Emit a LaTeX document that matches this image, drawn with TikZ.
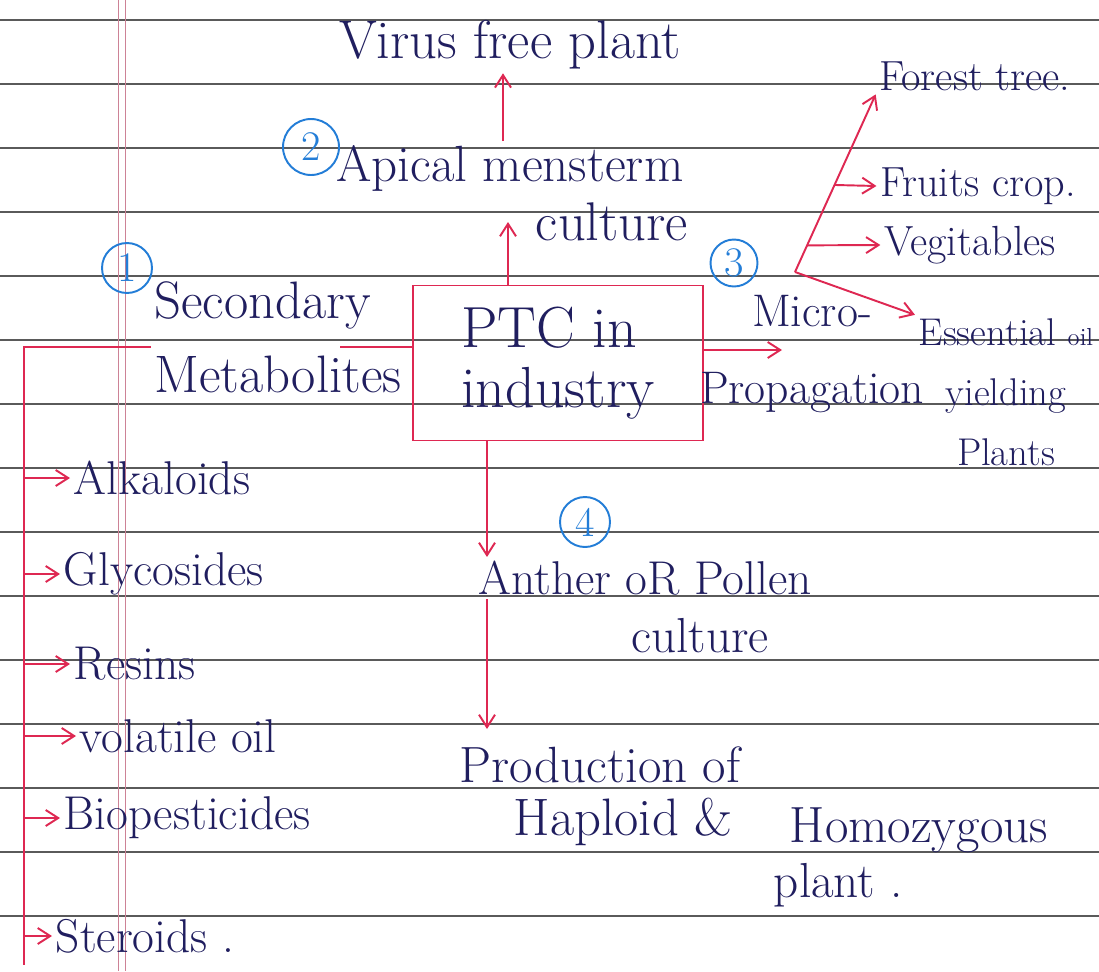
\documentclass[tikz,border=0pt]{standalone}
\usepackage{fontspec}
\usepackage{tikz}
\usetikzlibrary{positioning,arrows.meta,calc}
\usepackage{xcolor}
\definecolor{inkblue}{RGB}{32,30,95}
\definecolor{redink}{RGB}{222,40,82}
\definecolor{circblue}{RGB}{35,125,215}
\definecolor{rulegray}{RGB}{90,90,90}
\definecolor{margpink}{RGB}{205,130,150}

\begin{document}
\begin{tikzpicture}[x=0.02cm,y=-0.02cm,>={Straight Barb[length=2.5mm,width=3.2mm]},
  txt/.style={text=inkblue,font=\fontsize{29}{40}\selectfont,inner sep=2pt},
  listitem/.style={txt,anchor=west,font=\fontsize{27}{30}\selectfont},
  numcirc/.style={circle,draw=circblue,text=circblue,line width=1.1pt,minimum size=1cm,inner sep=0pt,font=\fontsize{24}{24}\selectfont},
  redline/.style={draw=redink,line width=1.1pt},
  redarrow/.style={redline,->}]
\useasboundingbox (0,0) rectangle (1099,971);
\fill[white] (0,0) rectangle (1099,971);
% ruled paper
\foreach \k in {0,...,14}
  \draw[rulegray,line width=0.6pt] (0,{20+64*\k}) -- (1099,{20+64*\k});
\draw[margpink,line width=0.5pt] (118,0) -- (118,971);
\draw[margpink,line width=0.5pt] (125,0) -- (125,971);

% centre box
\node[draw=redink,line width=1.1pt,txt,font=\fontsize{33}{34}\selectfont,align=left,minimum width=5.8cm,minimum height=3.1cm] (box) at (558,363) {PTC in\\industry};

% 1: secondary metabolites
\node[numcirc] (c1) at (127,268) {1};
\node[txt,align=left,font=\fontsize{30}{42}\selectfont] (secmet) at (278,337) {Secondary\\Metabolites};
\coordinate (trunk) at (24,347);
\coordinate (trunkend) at (24,965);
\node[listitem] (alk) at (70,478) {Alkaloids};
\node[listitem] (gly) at (60,574) {Glycosides};
\node[listitem] (res) at (70,664) {Resins};
\node[listitem] (vol) at (76,736) {volatile oil};
\node[listitem] (bio) at (60,818) {Biopesticides};
\node[listitem] (ster) at (52,936) {Steroids .};

% 2: apical meristem
\node[numcirc,minimum size=1.12cm] (c2) at (311,147) {2};
\node[txt,font=\fontsize{31}{40}\selectfont] (virus) at (510,45) {Virus free plant};
\node[txt] (apical) at (510,168) {Apical mensterm};
\node[txt,font=\fontsize{31}{40}\selectfont] (apicult) at (612,222) {culture};
\coordinate (vx) at (503,0);
\coordinate (ax) at (508,0);

% 3: micropropagation
\node[numcirc,minimum size=0.94cm] (c3) at (734,263) {3};
\node[txt,align=center,font=\fontsize{26}{44}\selectfont] (micro) at (812,354) {Micro-\\Propagation};
\coordinate (mtip) at (782,350);
\coordinate (hub) at (795,272);
\node[txt,font=\fontsize{24}{30}\selectfont] (forest) at (975,76) {Forest tree.};
\node[txt,font=\fontsize{24}{30}\selectfont] (fruits) at (978,186) {Fruits crop.};
\node[txt,font=\fontsize{24}{30}\selectfont] (veg) at (970,245) {Vegitables};
\node[txt,font=\fontsize{22}{34}\selectfont,align=center] (ess) at (1006,392) {Essential {\fontsize{14}{16}\selectfont oil}\\yielding\\Plants};

% 4: anther culture
\node[numcirc] (c4) at (585,522) {4};
\node[txt,font=\fontsize{27}{40}\selectfont] (anther) at (645,578) {Anther oR Pollen};
\node[txt,font=\fontsize{28}{40}\selectfont] (anthcult) at (700,636) {culture};
\coordinate (dx) at (487,0);
\node[txt,anchor=west] (prod) at (456,765) {Production of};
\node[txt,anchor=west,font=\fontsize{30}{40}\selectfont] (hap) at (510,822) {Haploid \&};
\node[txt,anchor=west] (homo) at (786,830) {Homozygous};
\node[txt,anchor=west,font=\fontsize{28}{40}\selectfont] (plant) at (770,885) {plant .};

% connectors
\draw[redline] (box.west |- trunk) -- ($(secmet.east |- trunk)+(-65,0)$);
\draw[redline] (secmet.west |- trunk) -- (trunk) -- (trunkend);
\foreach \n in {alk,gly,res,vol,bio,ster}
  \draw[redarrow] (trunk |- \n.west) -- (\n.west);
\draw[redarrow] (box.north -| ax) -- (apicult.west -| ax);
\draw[redarrow] (apical.north -| vx) -- (virus.south -| vx);
\draw[redarrow] (box.east |- mtip) -- (mtip);
\draw[redarrow] (hub) -- (forest.south west);
\draw[redarrow] ($(hub)!0.49!(forest.south west)$) -- (fruits.west);
\draw[redarrow] ($(hub)!0.15!(forest.south west)$) -- (veg.west);
\draw[redarrow] (hub) -- (ess.north west);
\draw[redarrow] (box.south -| dx) -- (anther.north -| dx);
\draw[redarrow,shorten >=8pt] (anther.south -| dx) -- (prod.north -| dx);
\end{tikzpicture}
\end{document}
